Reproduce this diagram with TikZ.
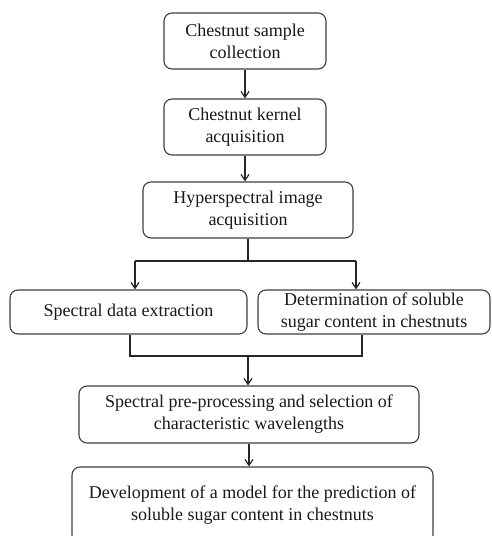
\documentclass[tikz,border=0pt]{standalone}
\usepackage{fontspec}
\setmainfont{Liberation Serif}
\usetikzlibrary{arrows.meta}
\begin{document}
\begin{tikzpicture}[x=1pt,y=-1pt,
  box/.style={draw=black!75,line width=1.1pt,rounded corners=8pt,align=center,
    inner sep=0pt,font=\fontsize{18}{22}\selectfont,text=black!90},
  conn/.style={line width=1.4pt,draw=black!85},
  arr/.style={conn,-{Straight Barb[length=6pt,width=8pt,line width=1.2pt]}}]
\useasboundingbox[fill=white] (0,0) rectangle (491,536);
\node[box,minimum width=162pt,minimum height=56pt] (b1) at (245,41) {Chestnut sample\\collection};
\node[box,minimum width=162pt,minimum height=56pt] (b2) at (245,127) {Chestnut kernel\\acquisition};
\node[box,minimum width=210pt,minimum height=56pt] (b3) at (248,210) {Hyperspectral image\\acquisition};
\node[box,minimum width=237pt,minimum height=44pt] (b4) at (128.5,312) {Spectral data extraction};
\node[box,minimum width=232pt,minimum height=44pt] (b5) at (374,312) {Determination of soluble\\sugar content in chestnuts};
\node[box,minimum width=340pt,minimum height=57pt] (b6) at (249,414.5) {Spectral pre-processing and selection of\\characteristic wavelengths};
\node[box,minimum width=361pt,minimum height=76pt] (b7) at (252.5,505) {Development of a model for the prediction of\\soluble sugar content in chestnuts};
\coordinate (j1) at (248,261);
\coordinate (jl) at (135,261);
\coordinate (jr) at (356,261);
\coordinate (kl) at (130,356);
\coordinate (kr) at (362,356);
\coordinate (km) at (248,356);
\draw[arr] (b1) -- (b2);
\draw[arr] (b2.south) -- (b2.south |- b3.north);
\draw[conn] (b3.south) -- (j1);
\draw[conn] (jl) -- (jr);
\draw[arr] (jl) -- (jl |- b4.north);
\draw[arr] (jr) -- (jr |- b5.north);
\draw[conn] (kl |- b4.south) -- (kl) -- (kr) -- (kr |- b5.south);
\draw[arr] (km) -- (km |- b6.north);
\draw[arr] (b6.south) -- (b6.south |- b7.north);
\end{tikzpicture}
\end{document}
